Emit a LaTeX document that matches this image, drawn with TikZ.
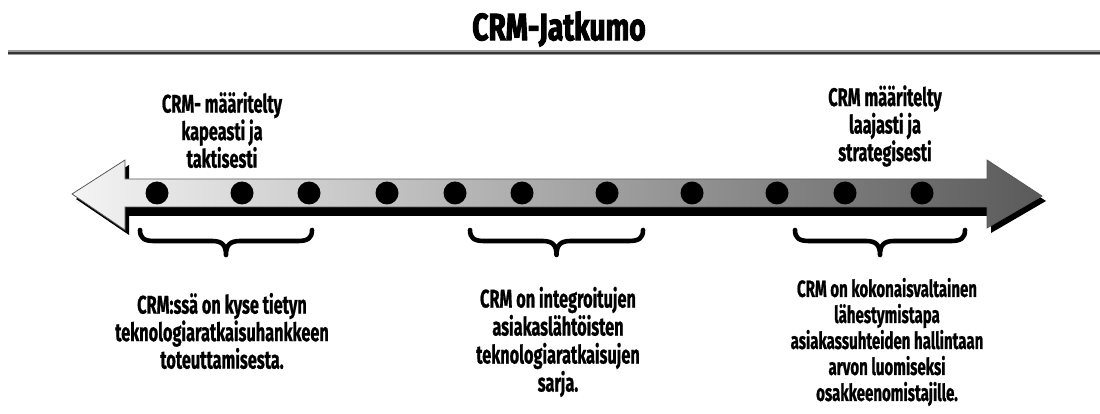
\documentclass[tikz,border=0pt]{standalone}
\usepackage{fontspec}
\setmainfont{Fira Sans}[FakeStretch=0.64, BoldFeatures={FakeBold=0.8}]
\newfontfamily\titlefont{Fira Sans}[FakeStretch=0.74, BoldFeatures={FakeBold=2.5}]
\definecolor{shaftL}{HTML}{F4F4F4}
\definecolor{shaftM}{HTML}{BBBBBB}
\definecolor{shaftR}{HTML}{5A5A5A}
\definecolor{rulegray}{HTML}{9A9A9A}
\definecolor{ruledark}{HTML}{333333}
\tikzset{
  lbl/.style={align=center, inner sep=0pt, font=\bfseries\fontsize{25.5}{27.5}\selectfont},
  lblmid/.style={align=center, inner sep=0pt, font=\bfseries\fontsize{25.5}{28}\selectfont},
  lblsmall/.style={align=center, inner sep=0pt, font=\bfseries\fontsize{23.5}{26}\selectfont},
  ttl/.style={inner sep=0pt, font=\titlefont\bfseries\fontsize{38}{42}\selectfont},
  dot/.style={circle, fill=black, inner sep=0pt, minimum size=23pt},
  bracestyle/.style={draw=black, line width=4.6pt, line cap=round, line join=round},
}
\begin{document}
\begin{tikzpicture}[x=1pt,y=-1pt]
\useasboundingbox (0,0) rectangle (1100,414);
% title and rule
\node[ttl] (title) at (559,29) {CRM-Jatkumo};
\coordinate (ruleL) at (8,53);
\coordinate (ruleR) at (1100,53);
\draw[rulegray, line width=5pt] (ruleL) -- (ruleR);
\draw[ruledark, line width=2.6pt] (ruleL) -- (ruleR);
% arrow shadow
\fill[black, shift={(4,5)}] (72,194) -- (125,160) -- (125,179) -- (987,179) -- (987,160)
   -- (1042,196) -- (987,228) -- (987,211) -- (125,211) -- (125,230) -- cycle;
% arrow body
\shade[left color=shaftL, middle color=shaftM, right color=shaftR, draw=black!65, line width=0.8pt]
   (72,194) -- (125,160) -- (125,179) -- (987,179) -- (987,160)
   -- (1042,196) -- (987,228) -- (987,207) -- (125,207) -- (125,230) -- cycle;
% dots
\foreach \x [count=\i] in {157,242,309,387,455,522,607,692,777,845,922}
  \node[dot] (d\i) at (\x,193) {};
% braces
\foreach \a/\b in {140/312, 470/643, 795/965}{
  \pgfmathsetmacro{\m}{(\a+\b)/2}
  \draw[bracestyle] (\a,230) .. controls (\a,238) and (\a+4,241) .. (\a+14,241) -- (\m-14,241)
     .. controls (\m-4,241) and (\m,245) .. (\m,255)
     .. controls (\m,245) and (\m+4,241) .. (\m+14,241) -- (\b-14,241)
     .. controls (\b-4,241) and (\b,238) .. (\b,230);
}
% top labels
\node[lbl] (tl) at (222,130) {CRM- määritelty\\kapeasti ja\\taktisesti};
\node[lbl] (tr) at (885,126) {CRM määritelty\\laajasti ja\\strategisesti};
% bottom labels
\node[lbl] (bl) at (222,331) {CRM:ssä on kyse tietyn\\teknologiaratkaisuhankkeen\\toteuttamisesta.};
\node[lblmid] (bm) at (558,342) {CRM on integroitujen\\asiakaslähtöisten\\teknologiaratkaisujen\\sarja.};
\node[lblsmall] (br) at (887,342) {CRM on kokonaisvaltainen\\lähestymistapa\\asiakassuhteiden hallintaan\\arvon luomiseksi\\osakkeenomistajille.};
\end{tikzpicture}
\end{document}
